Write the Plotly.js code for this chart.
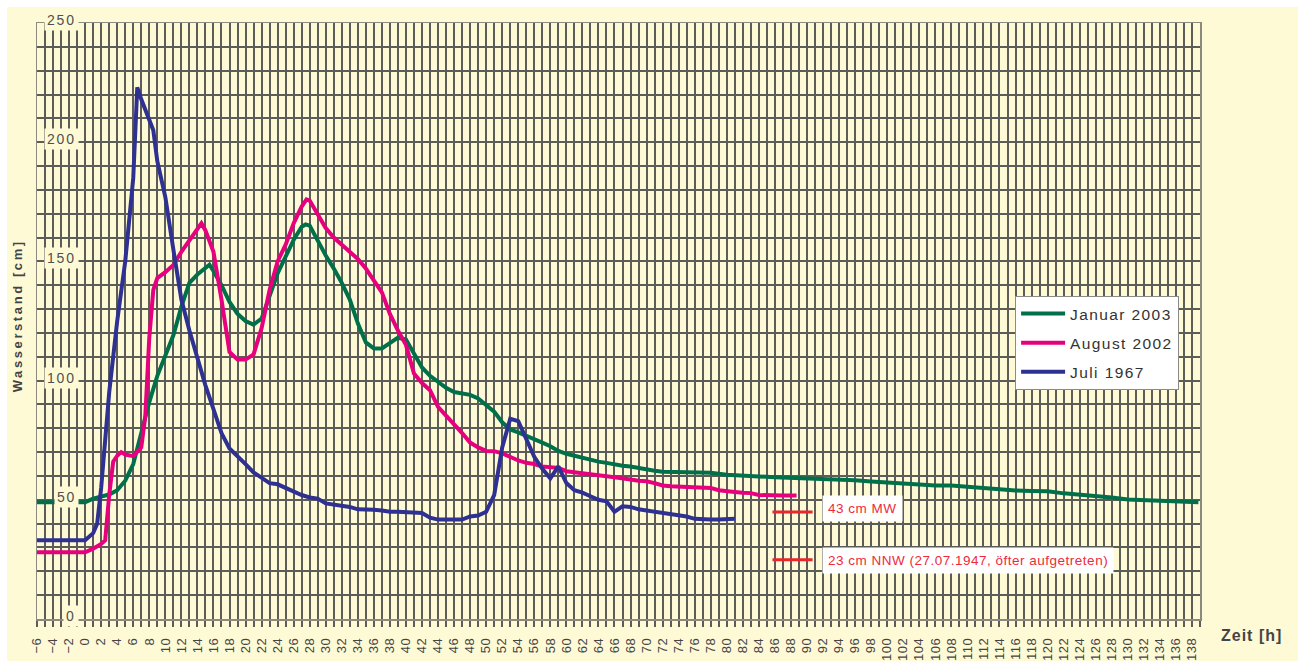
<!DOCTYPE html>
<html><head><meta charset="utf-8">
<script src="https://cdn.plot.ly/plotly-3.0.1.min.js"></script>
<style>
html,body{margin:0;padding:0;background:#fff;}
#chart{position:absolute;left:7px;top:7px;width:1291px;height:654px;}
.xtick text{letter-spacing:0.5px;}
</style></head><body><div id="chart"></div>
<script>
// Januar 2003
const janX = [-6,-5,-4,-3,-2,-1,0,1,2,3,4,5,6,7,8,9,10,11,12,13,14,15,15.5,16,17,18,19,20,21,22,23,24,25,26,27,27.5,
  28,29,30,31,32,33,34,35,36,37,38,39,40,41,42,43,44,45,46,47,48,49,50,51,52,53,54,55,56,57,58,59,60,61,62,63,64,65,66,67,68,69,70,71,72,
  74,76,78,80,82,84,86,88,90,92,94,96,98,100,102,104,106,108,110,112,114,116,118,120,122,124,126,128,130,132,134,136,138,138.8];
const janY = [49,49,49,49,49,49,49,50.5,51.5,52.2,54,58,65,78,91,102,110,119,131,141,144.5,147.5,148.6,146,140,133,128,125,123.5,126,136,145,152,159,164.5,165.5,
  165,158.5,152.5,147,141,134,124,116,113.5,113.5,116,118,117.2,111,105.5,102,99.5,97,95.2,94.6,94,92.5,89.5,87,82.5,79.5,78.3,77,75.7,74,72.5,70.5,69.3,68.5,67.5,66.5,66,65.5,64.8,64.3,64,63.3,62.8,62.2,61.8,
  61.6,61.5,61.3,60.5,60,59.8,59.5,59.3,59,58.6,58.5,58.2,57.7,57.3,57,56.2,56,56,55.4,54.8,54.2,53.9,53.7,53.6,52.7,52.2,51.8,51,50.1,49.8,49.7,49.3,49.1,49];

// August 2002
const augX = [-6,-5,-4,-3,-2,-1,0,1,2,2.5,3,3.5,4,4.5,5,6,7,7.5,8,8.5,9,10,11,12,13,14,14.5,15,16,17,18,19,20,21,22,23,24,25,26,27,27.6,
  28,29,30,31,32,33,34,35,36,37,38,39,40,41,42,43,44,45,46,47,48,49,50,51,52,53,54,55,56,57,58,59,60,61,62,63,64,65,66,67,68,69,70,
  71,72,73,74,75,76,77,78,79,80,81,82,83,84,85,86,87,88,88.7];
const augY = [28,28,28,28,28,28,28,29.5,31.5,33,52,66,68.5,70,69,68.3,72,85,118,138,143,145.5,148.5,154,159,164,166,163,154,134,112,108.8,108.8,111,122,138,150,157,166,173,176,
  175.5,170,164,160,157,153.5,151,147,142,137,128,121,115,103,99,96,89,85.5,82,78,74,72,70.5,70.4,69.5,68,66.5,65.5,65,64,63.7,63.4,62,61.5,61,60.5,60,59.9,59.5,58.8,58.5,58,57.8,
  57,56,55.7,55.5,55.3,55,55,55,54,53.5,53.3,53,52.8,52,51.8,51.8,51.8,51.8,51.8];

// Juli 1967
const julX = [-6,-5,-4,-3,-2,-1,0,1,1.5,2,3,4,5,6,6.5,7,8,8.5,
  9,10,11,12,13,14,15,16,17,18,19,20,21,22,23,24,25,26,27,28,29,30,31,32,33,34,35,36,37,38,39,40,41,42,43,44,45,46,47,48,
  49,50,51,52,53,54,55,56,57,58,59,60,61,62,63,64,65,66,67,68,69,70,71,72,73,74,75,76,77,78,79,80,81];
const julY = [33,33,33,33,33,33,33,36,40,55,95,125,150,185,223,218,209,205,
  192,177,155,134,121,109,98,88,78,71.5,68.5,65,61.5,59,57,56.5,55,53.5,52,51,50.5,48.5,48,47.5,47,46,46,45.8,45.5,45,45,44.8,44.5,44.5,42.5,41.7,41.7,41.7,41.7,43,
  43.4,45,52,72,84,83,75,68,63,59,64,57,54,53,51.5,50,49.4,45,47.3,47,46,45.5,45,44.8,44,43.5,43,42,41.7,41.7,41.7,42,42];

// reference level markers (as drawn) and their labels
const mwX = [85.7, 90.7], mwY = [44.9, 44.9];
const nnwX = [85.7, 90.7], nnwY = [24.9, 24.9];
const refLabels = ['43 cm MW', '23 cm NNW (27.07.1947, öfter aufgetreten)'];
const refLabelY = [46.3, 24.6];

const seriesNames = ['Januar 2003', 'August 2002', 'Juli 1967'];
const yTickVals = [0, 50, 100, 150, 200, 250];

const cream = '#fffad6';
const gridCol = '#5c5c58';
const FONT = 'Liberation Sans, Arial, sans-serif';
const sp = (t, ls) => '<span style="letter-spacing:' + ls + 'px">' + t + '</span>';

const traces = [
  {x: janX, y: janY, name: sp(seriesNames[0], 1.4), legendgroup: 'a', mode: 'lines', line: {color: '#00704a', width: 4}},
  {x: augX, y: augY, name: sp(seriesNames[1], 1.4), legendgroup: 'b', mode: 'lines', line: {color: '#e6007e', width: 4}},
  {x: julX, y: julY, name: sp(seriesNames[2], 1.4), legendgroup: 'c', mode: 'lines', line: {color: '#2e3192', width: 4}},
  {x: mwX, y: mwY, mode: 'lines', showlegend: false, hoverinfo: 'skip', line: {color: '#e8262c', width: 3}},
  {x: nnwX, y: nnwY, mode: 'lines', showlegend: false, hoverinfo: 'skip', line: {color: '#e8262c', width: 3}}
];

const ann = [];
yTickVals.forEach(v => ann.push({
  xref: 'paper', x: 0.0359, xanchor: 'right', yref: 'y', y: v, yanchor: 'middle', yshift: 3,
  text: sp(String(v), 1.8), showarrow: false, bgcolor: cream, borderpad: 2,
  font: {family: FONT, size: 14, color: '#505050'}
}));
ann.push({xref: 'paper', yref: 'paper', x: -0.0166, xanchor: 'center', y: 0.509, yanchor: 'middle', textangle: -90, showarrow: false,
  text: '<b>' + sp('Wasserstand [cm]', 2.6) + '</b>', font: {family: FONT, size: 13, color: '#444'}});
ann.push({xref: 'paper', yref: 'paper', x: 1.0447, xanchor: 'center', y: -0.0285, yanchor: 'middle', showarrow: false,
  text: '<b>' + sp('Zeit [h]', 1) + '</b>', font: {family: FONT, size: 16, color: '#444'}});
refLabels.forEach((t, i) => ann.push({
  xref: 'x', x: 91.85, xanchor: 'left', yref: 'y', y: refLabelY[i], yanchor: 'middle', showarrow: false,
  text: sp(t, 0.5), bgcolor: '#ffffff', borderpad: 5,
  font: {family: FONT, size: 13.5, color: '#ee2a3c'}
}));

const layout = {
  width: 1291, height: 654,
  margin: {l: 30, r: 98, t: 16, b: 42},
  paper_bgcolor: cream, plot_bgcolor: cream,
  font: {family: FONT, color: '#444'},
  showlegend: true,
  legend: {x: 0.841, y: 0.542, xanchor: 'left', yanchor: 'top', bgcolor: '#ffffff', bordercolor: '#8a8a8a', borderwidth: 1,
    font: {family: FONT, size: 15.5, color: '#333'}, itemwidth: 44, traceorder: 'grouped', tracegroupgap: 6},
  xaxis: {
    range: [-6, 139], tick0: -6, dtick: 2, tickangle: -90,
    showgrid: true, gridcolor: gridCol, gridwidth: 2,
    ticks: 'outside', ticklen: 6, tickcolor: gridCol, tickwidth: 2, ticklabelstandoff: 6,
    minor: {dtick: 1, showgrid: true, gridcolor: gridCol, gridwidth: 2, ticks: 'outside', ticklen: 6, tickcolor: gridCol, tickwidth: 2},
    tickfont: {family: FONT, size: 13, color: '#444'},
    showline: true, mirror: true, linecolor: '#8c8a80', linewidth: 1.5, zeroline: false, fixedrange: true
  },
  yaxis: {
    range: [0, 250], dtick: 10, showticklabels: false,
    showgrid: true, gridcolor: gridCol, gridwidth: 2, ticks: '',
    showline: true, mirror: true, linecolor: '#8c8a80', linewidth: 1.5, zeroline: false, fixedrange: true
  },
  annotations: ann
};

Plotly.newPlot('chart', traces, layout, {displayModeBar: false, staticPlot: true});
</script></body></html>
